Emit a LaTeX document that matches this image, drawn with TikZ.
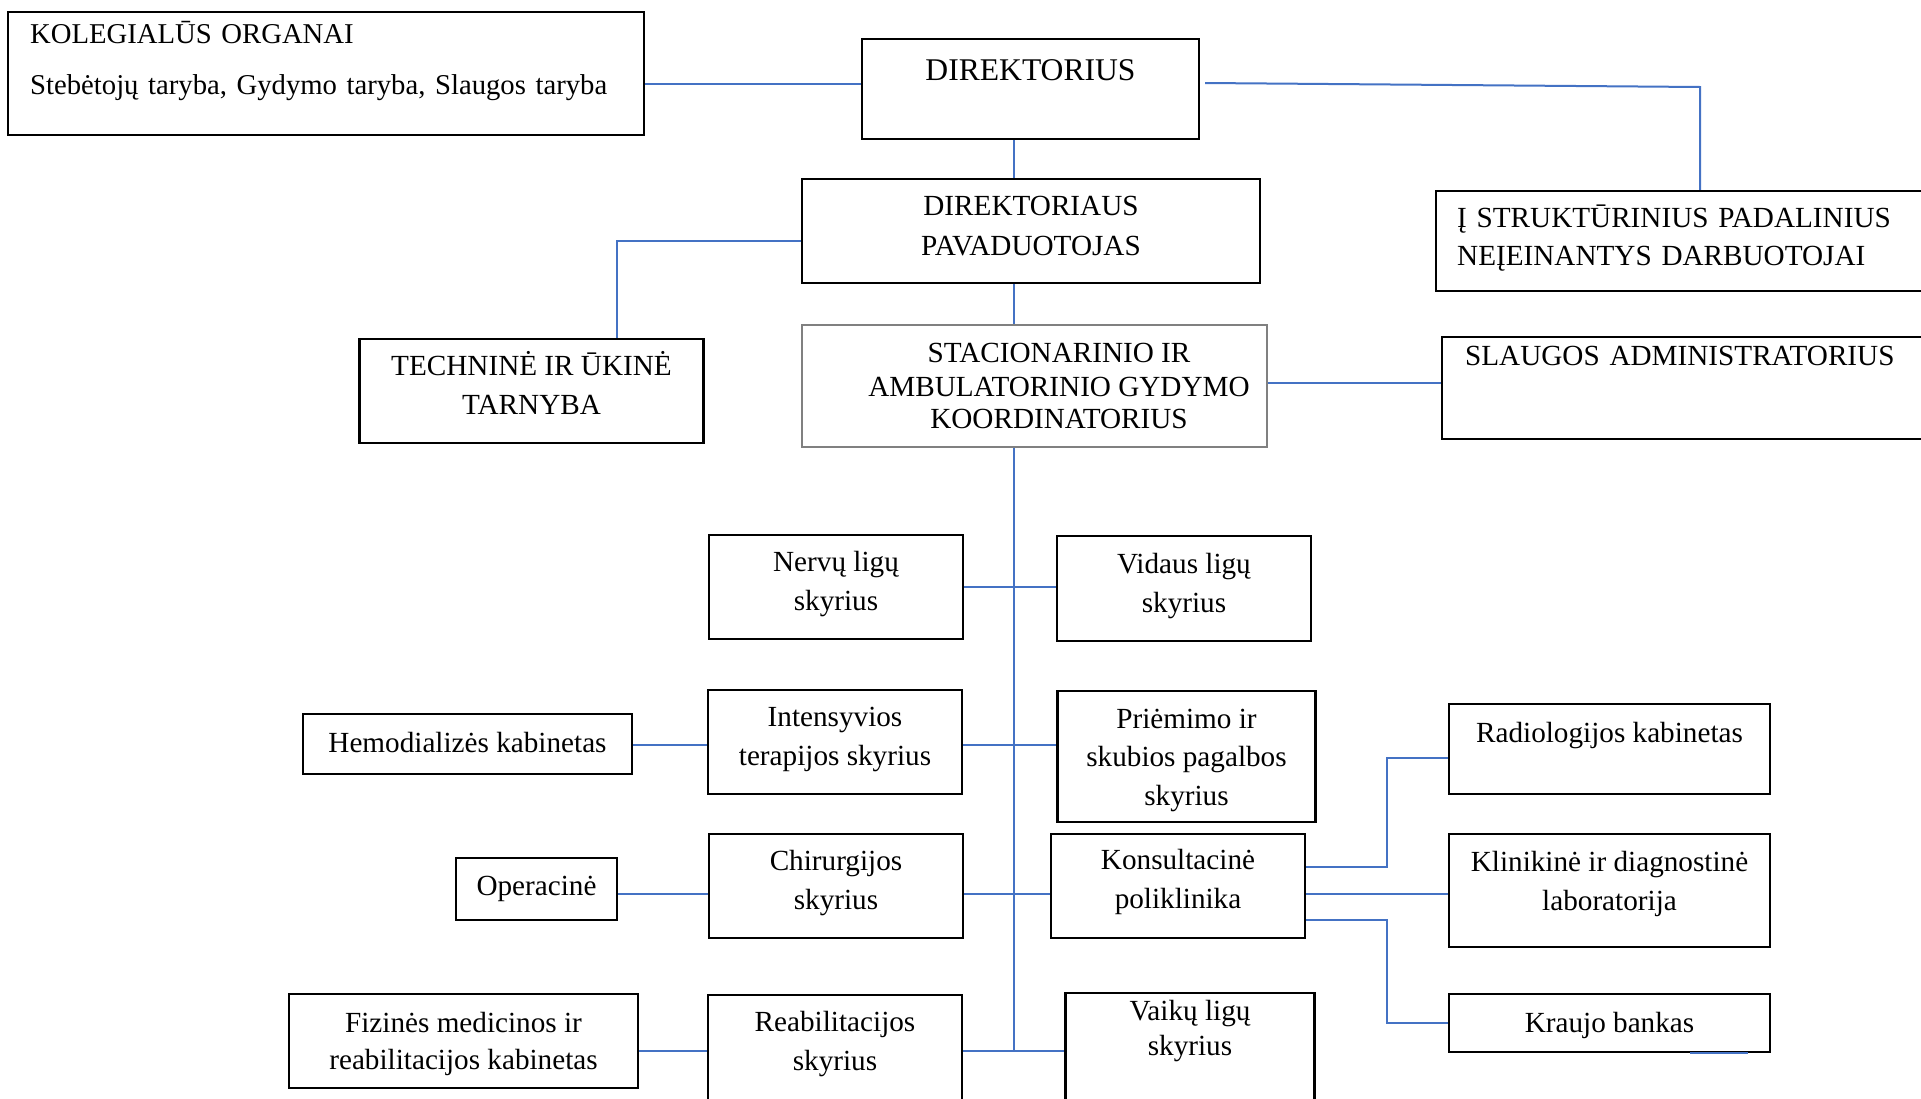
\documentclass[tikz,border=0pt]{standalone}
\usepackage{fontspec}
\setmainfont{Liberation Serif}
\usepackage{tikz}
\definecolor{linkblue}{RGB}{68,114,196}

\begin{document}
\begin{tikzpicture}[x=1pt, y=-1pt,
	every node/.style={font=\fontsize{29.2}{38.5}\selectfont},
	box/.style={draw, line width=2.3pt, align=center, inner ysep=0pt},
	link/.style={draw=linkblue, line width=2pt}]
		\useasboundingbox (0,0) rectangle (1921,1098);
		% top level
		\node[box, align=left, anchor=base west, text width=592pt, inner xsep=22pt, text height=31pt, text depth=92pt, font=\fontsize{28.7}{38.5}\selectfont] (kol) at (7,43) {KOLEGIAL\={U}S ORGANAI\\[12.5pt]Steb\.etoj\k{u} taryba, Gydymo taryba, Slaugos taryba};
		\node[box, anchor=base, minimum width=337pt, text height=41pt, text depth=59pt, font=\fontsize{31.6}{38}\selectfont] (dir) at (1030.5,80) {DIREKTORIUS};
		\node[box, anchor=base, minimum width=458pt, text height=76pt, text depth=28pt] (pav) at (1031,255) {DIREKTORIAUS\\[1.5pt]PAVADUOTOJAS};
		\node[box, align=left, anchor=base west, text width=463pt, inner xsep=21pt, text height=36pt, text depth=64pt] (str) at (1435,227) {\k{I} STRUKT\={U}RINIUS PADALINIUS\\NE\k{I}EINANTYS DARBUOTOJAI};
		\node[box, anchor=base, minimum width=344pt, text height=75pt, text depth=29pt] (tech) at (531.5,414) {TECHNIN\.E IR \={U}KIN\.E\\TARNYBA};
		\node[box, draw=gray, line width=1.3pt, minimum width=465pt, minimum height=122pt] (sta) at (1034.5,386) {};
		\node[anchor=base, align=center, inner sep=0pt] (stat) at (1059,428) {STACIONARINIO IR\\[-4.5pt]AMBULATORINIO GYDYMO\\[-6.5pt]KOORDINATORIUS};
		\node[box, align=left, anchor=base west, text width=453pt, inner xsep=23pt, text height=28pt, text depth=74pt] (slg) at (1441,365) {SLAUGOS ADMINISTRATORIUS};
		
		% departments
		\node[box, anchor=base, minimum width=254pt, text height=75pt, text depth=29pt] (nerv) at (836,610) {Nerv\k{u} lig\k{u}\\skyrius};
		\node[box, anchor=base, minimum width=253.5pt, text height=76pt, text depth=29pt] (vid) at (1184,612) {Vidaus lig\k{u}\\skyrius};
		\node[box, anchor=base, minimum width=329pt, text height=38pt, text depth=22pt] (hem) at (467.5,752) {Hemodializ\.es kabinetas};
		\node[box, anchor=base, minimum width=254pt, text height=75pt, text depth=29pt] (int) at (835,765) {Intensyvios\\terapijos skyrius};
		\node[box, anchor=base, minimum width=258pt, text height=114pt, text depth=17pt] (pri) at (1186.5,805) {Pri\.emimo ir\\skubios pagalbos\\skyrius};
		\node[box, anchor=base, minimum width=321pt, text height=38pt, text depth=52pt] (rad) at (1609.5,742) {Radiologijos kabinetas};
		\node[box, anchor=base, minimum width=161pt, text height=37pt, text depth=25pt] (ope) at (536.5,895) {Operacin\.e};
		\node[box, anchor=base, minimum width=253.5pt, text height=75pt, text depth=29pt] (chi) at (836,909) {Chirurgijos\\skyrius};
		\node[box, anchor=base, minimum width=254pt, text height=74pt, text depth=30pt] (kon) at (1178,908) {Konsultacin\.e\\poliklinika};
		\node[box, anchor=base, minimum width=321pt, text height=76pt, text depth=37pt] (kli) at (1609.5,910) {Klinikin\.e ir diagnostin\.e\\laboratorija};
		\node[box, anchor=base, minimum width=349pt, text height=75pt, text depth=19pt] (fiz) at (463.5,1069) {Fizin\.es medicinos ir\\[-1.5pt]reabilitacijos kabinetas};
		\node[box, anchor=base, minimum width=254pt, text height=75pt, text depth=42pt] (rea) at (835,1070) {Reabilitacijos\\skyrius};
		\node[box, anchor=base, minimum width=249pt, text height=62pt, text depth=57pt] (vai) at (1190,1055) {Vaik\k{u} lig\k{u}\\[-3.5pt]skyrius};
		\node[box, anchor=base, minimum width=321pt, text height=38pt, text depth=20pt] (kra) at (1609.5,1032) {Kraujo bankas};
		
		% connectors
		\coordinate (trunk) at (1014,1051);
		\coordinate (s1) at (1700,87);
		\coordinate (t1) at ([xshift=85.5pt]tech.north);
		\coordinate (kfork) at ([xshift=81pt]kon.east);
		\coordinate (r1) at ([yshift=-9pt]rad.west);
		\draw[link] ([yshift=-10.5pt]kol.east) coordinate (k1) -- (k1 -| dir.west);
		\draw[link] ([xshift=5pt,yshift=6pt]dir.east) -- (s1) -- (s1 |- str.north);
		\draw[link] (dir.south -| trunk) -- (pav.north -| trunk);
		\draw[link] (pav.south -| trunk) -- (sta.north -| trunk);
		\draw[link] (sta.south -| trunk) -- (trunk);
		\draw[link] ([yshift=-10pt]pav.west) coordinate (p1) -- (p1 -| t1) -- (t1);
		\draw[link] ([yshift=3pt]sta.east) coordinate (s2) -- (s2 -| slg.west);
		\draw[link] (nerv.east) -- (nerv.east -| vid.west);
		\draw[link] ([yshift=-3pt]int.east) coordinate (i1) -- (i1 -| pri.west);
		\draw[link] ([yshift=-3pt]int.west) coordinate (i2) -- (i2 -| hem.east);
		\draw[link] ([yshift=-8pt]chi.east) coordinate (c1) -- (c1 -| kon.west);
		\draw[link] ([yshift=-8pt]chi.west) coordinate (c2) -- (c2 -| ope.east);
		\draw[link] (trunk -| rea.east) -- (trunk -| vai.west);
		\draw[link] (trunk -| rea.west) -- (trunk -| fiz.east);
		\draw[link] ([yshift=19pt]kon.east) coordinate (q1) -- (q1 -| kfork) -- (kfork |- r1) -- (r1);
		\draw[link] ([yshift=-8pt]kon.east) coordinate (q2) -- (q2 -| kli.west);
		\draw[link] ([yshift=-34pt]kon.east) coordinate (q3) -- (q3 -| kfork) -- (kfork |- kra.west) -- (kra.west);
		\draw[link] ([xshift=80.5pt]kra.south) -- ([xshift=138.5pt]kra.south);
	\end{tikzpicture}
\end{document}
